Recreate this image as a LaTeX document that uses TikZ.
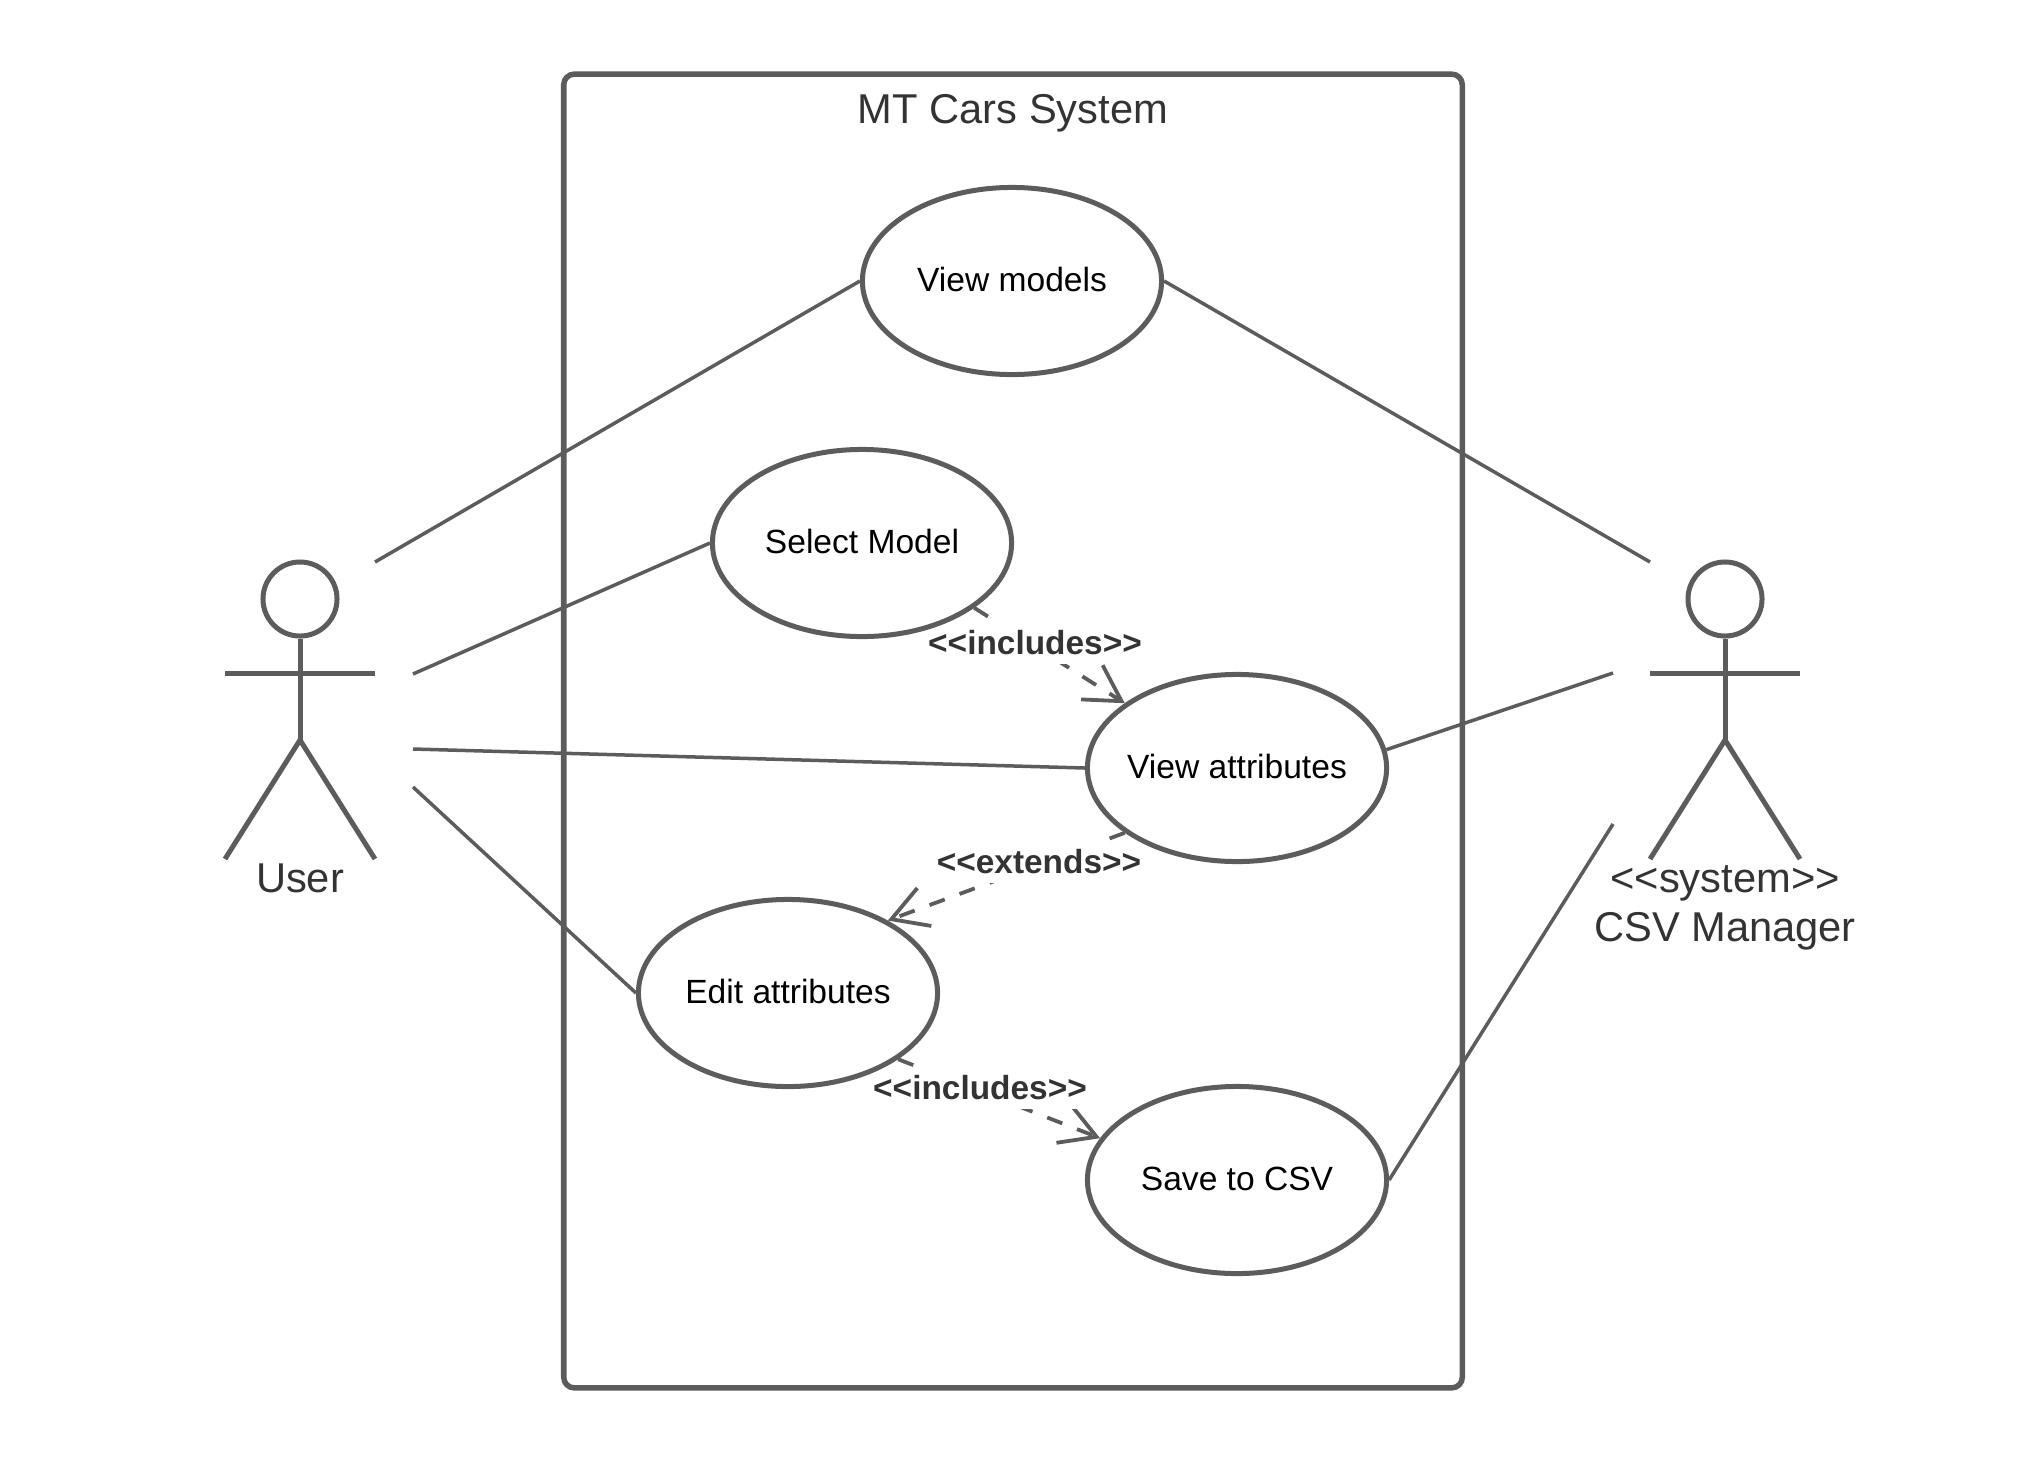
\documentclass[tikz,border=0pt]{standalone}
\usepackage{fontspec}
\usepackage{xcolor}
\usepackage{tikz}
\usetikzlibrary{shapes.geometric,arrows.meta,backgrounds}
\setmainfont{Liberation Sans}

\definecolor{linegray}{HTML}{5C5C5C}
\definecolor{textgray}{HTML}{333333}

\tikzset{
    usecase/.style={ellipse, draw=linegray, line width=0.5mm, fill=white, text=black,
        minimum width=2.99cm, minimum height=1.87cm, inner xsep=-4mm, inner ysep=0pt,
        text depth=0.75pt, font=\fontsize{9.55}{11.5}\selectfont},
    systembox/.style={rectangle, draw=linegray, line width=0.55mm, rounded corners=3pt,
        minimum width=8.98cm, minimum height=13.13cm},
    bigtext/.style={text=textgray, inner sep=0pt, align=center,
        font=\fontsize{11.85}{14}\selectfont},
    actorhead/.style={circle, draw=linegray, line width=0.5mm, minimum size=0.74cm, inner sep=0pt},
    actorline/.style={draw=linegray, line width=0.5mm},
    assoc/.style={draw=linegray, line width=0.35mm},
    depend/.style={draw=linegray, line width=0.38mm, dash pattern=on 4.6pt off 4.5pt,
        -{Straight Barb[length=10pt,width=11.5pt]}},
    deplabel/.style={fill=white, text=textgray, inner sep=0pt, minimum height=0.41cm,
        font=\fontsize{9.5}{11.5}\selectfont\bfseries},
}

\begin{document}
\begin{tikzpicture}[x=0.01cm, y=-0.01cm]
    \useasboundingbox (0, 0) rectangle (2025, 1463);

    \node[systembox] (system) at (1013, 731) {};
    \node[bigtext] (systemtitle) at (1013, 113) {MT Cars System};

    \node[usecase] (viewmodels) at (1012, 281) {View models};
    \node[usecase] (selectmodel) at (862, 543) {Select Model};
    \node[usecase] (viewattrs) at (1237, 768) {View attributes};
    \node[usecase] (editattrs) at (788, 993) {Edit attributes};
    \node[usecase] (savecsv) at (1237, 1180) {Save to CSV};

    % user
    \node[actorhead] (userhead) at (300, 599) {};
    \coordinate (userhip) at (300, 740);
    \draw[actorline] (userhead.south) -- (userhip);
    \draw[actorline] (225, 673) -- (375, 673);
    \draw[actorline] (225, 859) -- (userhip) -- (375, 859);
    \node[bigtext] (userlabel) at (300, 878) {User};

    % csv manager
    \node[actorhead] (csvhead) at (1725, 599) {};
    \coordinate (csvhip) at (1725, 740);
    \draw[actorline] (csvhead.south) -- (csvhip);
    \draw[actorline] (1650, 673) -- (1800, 673);
    \draw[actorline] (1650, 859) -- (csvhip) -- (1800, 859);
    \node[bigtext] (csvlabel) at (1725, 908) {{<}{<}system{>}{>}\\CSV Manager};

    % free ends of the associations
    \coordinate (userA) at (375, 562);
    \coordinate (userB) at (413, 674);
    \coordinate (userC) at (413, 749);
    \coordinate (userD) at (413, 787);
    \coordinate (csvA) at (1650, 562);
    \coordinate (csvB) at (1613, 673);
    \coordinate (csvC) at (1613, 824);

    \draw[assoc] (userA) -- (viewmodels.west);
    \draw[assoc] (userB) -- (selectmodel.west);
    \draw[assoc] (userC) -- (viewattrs.west);
    \draw[assoc] (userD) -- (editattrs.west);
    \draw[assoc] (viewmodels.east) -- (csvA);
    \draw[assoc] (viewattrs.7) -- (csvB);
    \draw[assoc] (savecsv.east) -- (csvC);

    % dependencies go under the use cases
    \begin{pgfonlayer}{background}
        \draw[depend] (selectmodel.-30) -- (viewattrs.150);
        \draw[depend] (viewattrs.210) -- (editattrs.36);
        \draw[depend] (editattrs.-31) -- (savecsv.163);

        \node[deplabel] (includesA) at (1035, 643) {{<}{<}includes{>}{>}};
        \node[deplabel] (extends) at (1039, 862) {{<}{<}extends{>}{>}};
        \node[deplabel] (includesB) at (980, 1088) {{<}{<}includes{>}{>}};
    \end{pgfonlayer}
\end{tikzpicture}
\end{document}
